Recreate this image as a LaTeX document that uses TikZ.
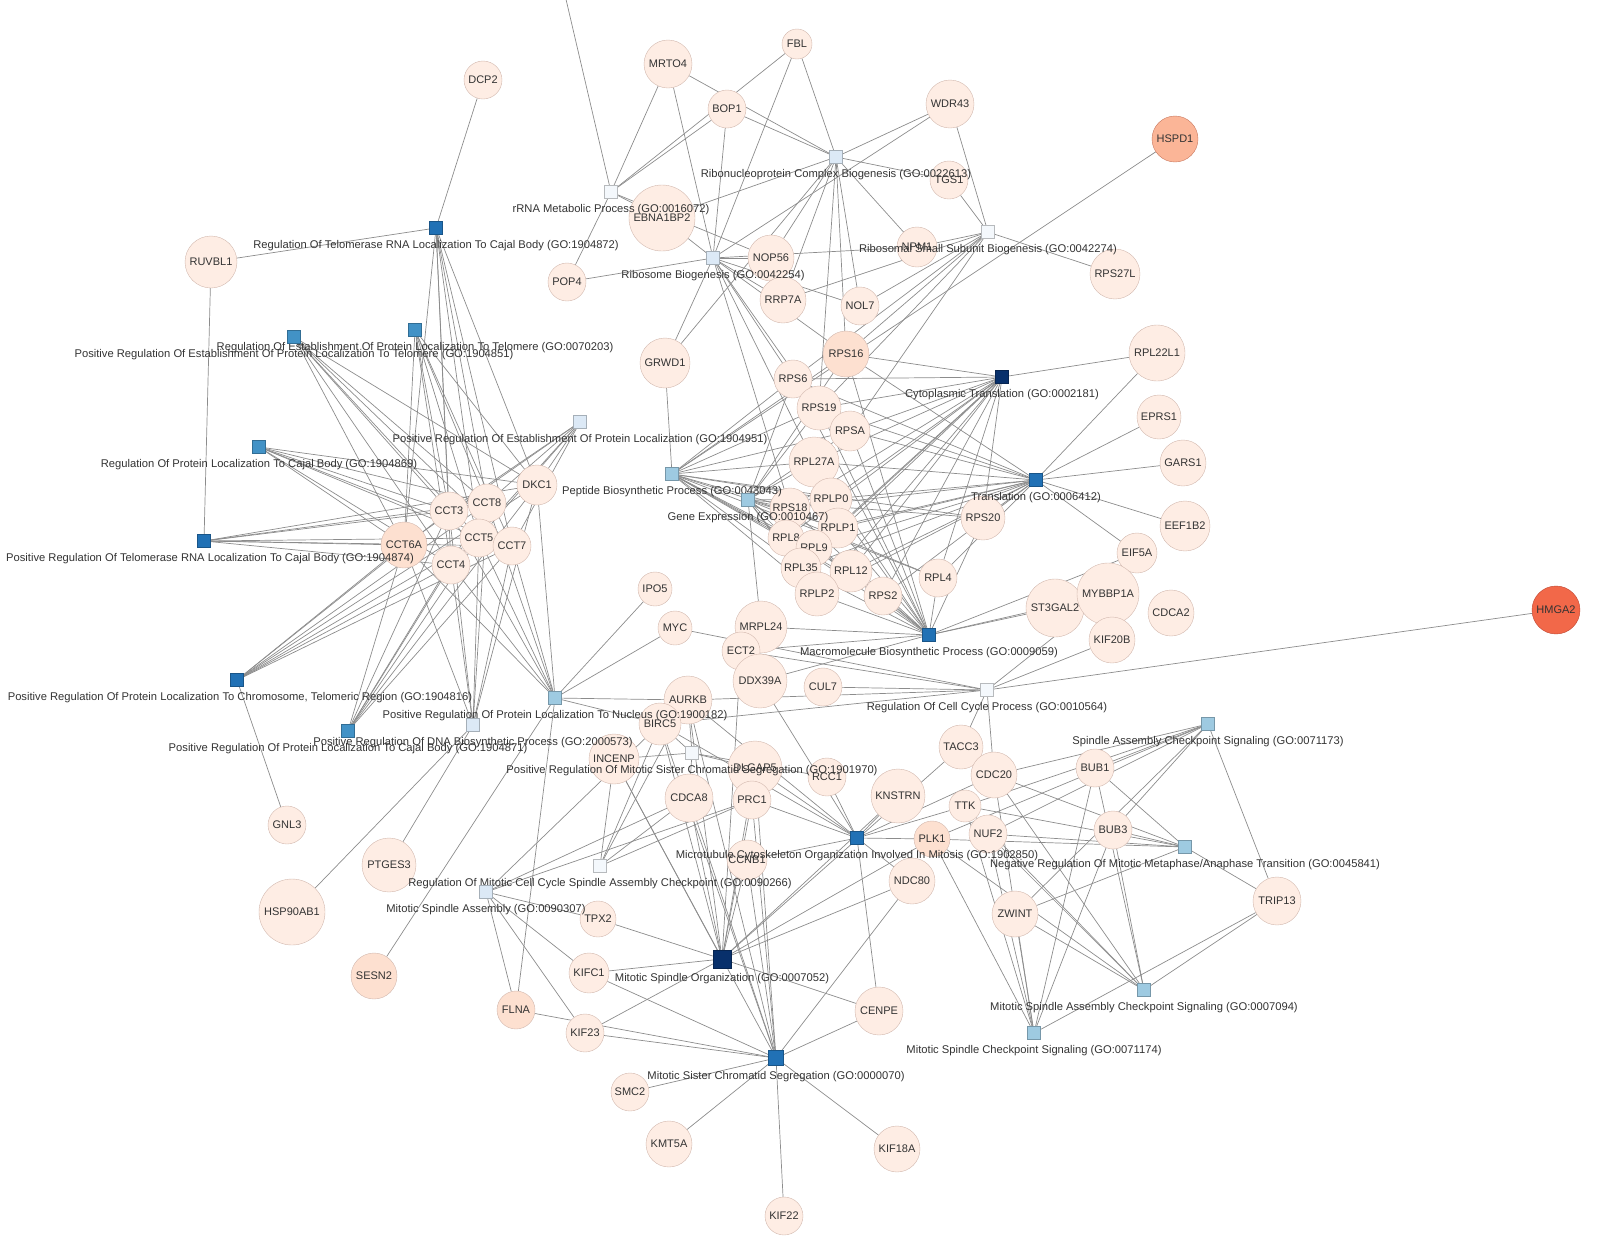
\documentclass[tikz,border=0pt]{standalone}
\usepackage{fontspec}
\setmainfont{Liberation Sans}
\usetikzlibrary{backgrounds}
\definecolor{gfill}{HTML}{FEEDE4}
\definecolor{gline}{HTML}{D2B8AE}
\definecolor{gmid}{HTML}{FDE0D0}
\definecolor{goA}{HTML}{08306B}
\definecolor{goB}{HTML}{2171B5}
\definecolor{goC}{HTML}{4292C6}
\definecolor{goD}{HTML}{9ECAE1}
\definecolor{goE}{HTML}{DCE9F6}
\definecolor{goF}{HTML}{F4F8FC}
\tikzset{
  gene/.style={circle,draw=gline,fill=gfill,inner sep=0pt,font=\fontsize{11}{12}\selectfont,text=black!80},
  go/.style={rectangle,draw=#1!75!black,fill=#1,minimum size=13pt,inner sep=0pt},
  golab/.style={font=\fontsize{11.2}{13}\selectfont,text=black!80,inner sep=1pt,yshift=-4pt},
  edge/.style={draw=black!45,line width=0.7pt}
}
\begin{document}
\begin{tikzpicture}[x=1pt,y=-1pt]
\useasboundingbox (0,0) rectangle (1604,1251);
% genes
\node[gene,minimum size=38] (DCP2) at (483,80) {DCP2};
\node[gene,minimum size=48] (MRTO4) at (668,64) {MRTO4};
\node[gene,minimum size=30] (FBL) at (797,44) {FBL};
\node[gene,minimum size=38] (BOP1) at (727,109) {BOP1};
\node[gene,minimum size=48] (WDR43) at (950,104) {WDR43};
\node[gene,minimum size=46,fill={rgb,255:red,251;green,181;blue,151},draw={rgb,255:red,200;green,120;blue,95}] (HSPD1) at (1175,139) {HSPD1};
\node[gene,minimum size=38] (TGS1) at (949,180) {TGS1};
\node[gene,minimum size=66] (EBNA1BP2) at (662,218) {EBNA1BP2};
\node[gene,minimum size=52] (RUVBL1) at (211,262) {RUVBL1};
\node[gene,minimum size=38] (POP4) at (567,282) {POP4};
\node[gene,minimum size=46] (NOP56) at (771,258) {NOP56};
\node[gene,minimum size=40] (NPM1) at (917,247) {NPM1};
\node[gene,minimum size=50] (RPS27L) at (1115,274) {RPS27L};
\node[gene,minimum size=46] (RRP7A) at (783,300) {RRP7A};
\node[gene,minimum size=38] (NOL7) at (860,306) {NOL7};
\node[gene,minimum size=56] (RPL22L1) at (1157,353) {RPL22L1};
\node[gene,minimum size=46,fill=gmid] (RPS16) at (846,354) {RPS16};
\node[gene,minimum size=50] (GRWD1) at (665,363) {GRWD1};
\node[gene,minimum size=38] (RPS6) at (793,379) {RPS6};
\node[gene,minimum size=44] (RPS19) at (819,408) {RPS19};
\node[gene,minimum size=40] (RPSA) at (850,431) {RPSA};
\node[gene,minimum size=44] (EPRS1) at (1159,417) {EPRS1};
\node[gene,minimum size=46] (GARS1) at (1183,463) {GARS1};
\node[gene,minimum size=50] (RPL27A) at (814,462) {RPL27A};
\node[gene,minimum size=42] (RPLP0) at (831,499) {RPLP0};
\node[gene,minimum size=40] (RPS18) at (790,508) {RPS18};
\node[gene,minimum size=44] (RPS20) at (983,518) {RPS20};
\node[gene,minimum size=50] (EEF1B2) at (1185,526) {EEF1B2};
\node[gene,minimum size=40] (RPLP1) at (838,528) {RPLP1};
\node[gene,minimum size=36] (RPL8) at (786,538) {RPL8};
\node[gene,minimum size=36] (RPL9) at (814,548) {RPL9};
\node[gene,minimum size=40] (EIF5A) at (1137,553) {EIF5A};
\node[gene,minimum size=40] (RPL35) at (801,568) {RPL35};
\node[gene,minimum size=42] (RPL12) at (851,571) {RPL12};
\node[gene,minimum size=38] (RPL4) at (938,578) {RPL4};
\node[gene,minimum size=44] (RPLP2) at (817,594) {RPLP2};
\node[gene,minimum size=38] (RPS2) at (883,596) {RPS2};
\node[gene,minimum size=58] (ST3GAL2) at (1055,608) {ST3GAL2};
\node[gene,minimum size=62] (MYBBP1A) at (1108,594) {MYBBP1A};
\node[gene,minimum size=46] (CDCA2) at (1171,613) {CDCA2};
\node[gene,minimum size=48,fill={rgb,255:red,242;green,104;blue,73},draw={rgb,255:red,190;green,70;blue,50}] (HMGA2) at (1556,610) {HMGA2};
\node[gene,minimum size=46] (KIF20B) at (1112,640) {KIF20B};
\node[gene,minimum size=34] (IPO5) at (655,589) {IPO5};
\node[gene,minimum size=34] (MYC) at (675,628) {MYC};
\node[gene,minimum size=52] (MRPL24) at (761,627) {MRPL24};
\node[gene,minimum size=38] (ECT2) at (741,651) {ECT2};
\node[gene,minimum size=54] (DDX39A) at (760,681) {DDX39A};
\node[gene,minimum size=38] (CUL7) at (823,687) {CUL7};
\node[gene,minimum size=48] (AURKB) at (688,700) {AURKB};
\node[gene,minimum size=42] (BIRC5) at (660,724) {BIRC5};
\node[gene,minimum size=44] (TACC3) at (961,747) {TACC3};
\node[gene,minimum size=50] (INCENP) at (614,759) {INCENP};
\node[gene,minimum size=54] (DLGAP5) at (755,768) {DLGAP5};
\node[gene,minimum size=38] (RCC1) at (827,777) {RCC1};
\node[gene,minimum size=46] (CDC20) at (994,775) {CDC20};
\node[gene,minimum size=38] (BUB1) at (1095,768) {BUB1};
\node[gene,minimum size=54] (KNSTRN) at (898,796) {KNSTRN};
\node[gene,minimum size=32] (TTK) at (965,806) {TTK};
\node[gene,minimum size=48] (CDCA8) at (689,798) {CDCA8};
\node[gene,minimum size=38] (PRC1) at (752,800) {PRC1};
\node[gene,minimum size=38] (NUF2) at (988,834) {NUF2};
\node[gene,minimum size=38] (BUB3) at (1113,830) {BUB3};
\node[gene,minimum size=36,fill=gmid] (PLK1) at (932,839) {PLK1};
\node[gene,minimum size=40] (CCNB1) at (747,860) {CCNB1};
\node[gene,minimum size=46] (NDC80) at (912,881) {NDC80};
\node[gene,minimum size=48] (TRIP13) at (1277,901) {TRIP13};
\node[gene,minimum size=46] (ZWINT) at (1015,914) {ZWINT};
\node[gene,minimum size=38] (GNL3) at (287,825) {GNL3};
\node[gene,minimum size=54] (PTGES3) at (389,865) {PTGES3};
\node[gene,minimum size=66] (HSP90AB1) at (292,912) {HSP90AB1};
\node[gene,minimum size=36] (TPX2) at (598,919) {TPX2};
\node[gene,minimum size=46,fill=gmid] (SESN2) at (374,976) {SESN2};
\node[gene,minimum size=40] (KIFC1) at (589,973) {KIFC1};
\node[gene,minimum size=38,fill=gmid] (FLNA) at (516,1010) {FLNA};
\node[gene,minimum size=48] (CENPE) at (879,1011) {CENPE};
\node[gene,minimum size=38] (KIF23) at (585,1033) {KIF23};
\node[gene,minimum size=38] (SMC2) at (630,1092) {SMC2};
\node[gene,minimum size=46] (KMT5A) at (669,1144) {KMT5A};
\node[gene,minimum size=46] (KIF18A) at (897,1149) {KIF18A};
\node[gene,minimum size=38] (KIF22) at (784,1216) {KIF22};
\node[gene,minimum size=38] (CCT8) at (487,503) {CCT8};
\node[gene,minimum size=40] (DKC1) at (537,485) {DKC1};
\node[gene,minimum size=38] (CCT3) at (449,511) {CCT3};
\node[gene,minimum size=38] (CCT5) at (479,538) {CCT5};
\node[gene,minimum size=46,fill=gmid] (CCT6A) at (404,545) {CCT6A};
\node[gene,minimum size=38] (CCT7) at (512,546) {CCT7};
\node[gene,minimum size=38] (CCT4) at (451,565) {CCT4};
% GO terms
\node[go=goF,label={[golab]below:rRNA Metabolic Process (GO:0016072)}] (rrna) at (611,192) {};
\node[go=goE,label={[golab]below:Ribonucleoprotein Complex Biogenesis (GO:0022613)}] (rcb) at (836,157) {};
\node[go=goF,label={[golab]below:Ribosomal Small Subunit Biogenesis (GO:0042274)}] (ssb) at (988,232) {};
\node[go=goE,label={[golab]below:Ribosome Biogenesis (GO:0042254)}] (rb) at (713,258) {};
\node[go=goB,label={[golab]below:Regulation Of Telomerase RNA Localization To Cajal Body (GO:1904872)}] (rtc) at (436,228) {};
\node[go=goC,label={[golab]below:Regulation Of Establishment Of Protein Localization To Telomere (GO:0070203)}] (ret) at (415,330) {};
\node[go=goC,label={[golab]below:Positive Regulation Of Establishment Of Protein Localization To Telomere (GO:1904851)}] (pret) at (294,337) {};
\node[go=goA,label={[golab]below:Cytoplasmic Translation (GO:0002181)}] (ctr) at (1002,377) {};
\node[go=goE,label={[golab]below:Positive Regulation Of Establishment Of Protein Localization (GO:1904951)}] (prep) at (580,422) {};
\node[go=goC,label={[golab]below:Regulation Of Protein Localization To Cajal Body (GO:1904869)}] (rplc) at (259,447) {};
\node[go=goD,label={[golab]below:Peptide Biosynthetic Process (GO:0043043)}] (pbp) at (672,474) {};
\node[go=goB,label={[golab]below:Translation (GO:0006412)}] (tra) at (1036,480) {};
\node[go=goD,label={[golab]below:Gene Expression (GO:0010467)}] (gex) at (748,500) {};
\node[go=goB,label={[golab,xshift=6pt]below:Positive Regulation Of Telomerase RNA Localization To Cajal Body (GO:1904874)}] (prtc) at (204,541) {};
\node[go=goB,label={[golab]below:Macromolecule Biosynthetic Process (GO:0009059)}] (mbp) at (929,635) {};
\node[go=goB,label={[golab,xshift=3pt]below:{Positive Regulation Of Protein Localization To Chromosome, Telomeric Region (GO:1904816)}}] (prpt) at (237,680) {};
\node[go=goF,label={[golab]below:Regulation Of Cell Cycle Process (GO:0010564)}] (rccp) at (987,690) {};
\node[go=goD,label={[golab]below:Positive Regulation Of Protein Localization To Nucleus (GO:1900182)}] (prpn) at (555,698) {};
\node[go=goD,label={[golab]below:Spindle Assembly Checkpoint Signaling (GO:0071173)}] (sacs) at (1208,724) {};
\node[go=goC,label={[golab]below:Positive Regulation Of Protein Localization To Cajal Body (GO:1904871)}] (prpc) at (348,731) {};
\node[go=goE,label={[golab]below:Positive Regulation Of DNA Biosynthetic Process (GO:2000573)}] (prdna) at (473,725) {};
\node[go=goF,label={[golab]below:Positive Regulation Of Mitotic Sister Chromatid Segregation (GO:1901970)}] (prms) at (692,753) {};
\node[go=goB,label={[golab]below:Microtubule Cytoskeleton Organization Involved In Mitosis (GO:1902850)}] (mcom) at (857,838) {};
\node[go=goD,label={[golab]below:Negative Regulation Of Mitotic Metaphase/Anaphase Transition (GO:0045841)}] (nrmt) at (1185,847) {};
\node[go=goF,label={[golab]below:Regulation Of Mitotic Cell Cycle Spindle Assembly Checkpoint (GO:0090266)}] (rmsc) at (600,866) {};
\node[go=goE,label={[golab]below:Mitotic Spindle Assembly (GO:0090307)}] (msa) at (486,892) {};
\node[go=goA,minimum size=18pt,label={[golab]below:Mitotic Spindle Organization (GO:0007052)}] (mso) at (722,959) {};
\node[go=goD,label={[golab]below:Mitotic Spindle Assembly Checkpoint Signaling (GO:0007094)}] (msac) at (1144,990) {};
\node[go=goD,label={[golab]below:Mitotic Spindle Checkpoint Signaling (GO:0071174)}] (mscs) at (1034,1033) {};
\node[go=goB,minimum size=15pt,label={[golab]below:Mitotic Sister Chromatid Segregation (GO:0000070)}] (mseg) at (776,1058) {};
\coordinate (offtop) at (565,-5);
% connectors
\begin{scope}[on background layer]
\draw[edge] (rrna) -- (offtop);
\foreach \g in {MRTO4,BOP1,EBNA1BP2,POP4,FBL,NOP56}
  \draw[edge] (rrna) -- (\g);
\foreach \g in {FBL,BOP1,WDR43,TGS1,NOP56,RRP7A,NOL7,RPS16,RPS19,NPM1,EBNA1BP2,GRWD1,MRTO4}
  \draw[edge] (rcb) -- (\g);
\foreach \g in {WDR43,TGS1,NPM1,RPS27L,RPS16,RPS19,NOL7,RRP7A,RPSA,RPS6}
  \draw[edge] (ssb) -- (\g);
\foreach \g in {MRTO4,BOP1,EBNA1BP2,POP4,NOP56,RRP7A,NOL7,NPM1,GRWD1,RPS16,RPS6,RPS19,WDR43,FBL,RPL27A,RPS18}
  \draw[edge] (rb) -- (\g);
\foreach \t in {rtc,ret,pret,prep,rplc,prtc,prpt,prdna,prpc,prpn}
  \foreach \g in {CCT3,CCT8,CCT5,CCT6A,CCT7,CCT4,DKC1}
    \draw[edge] (\t) -- (\g);
\draw[edge] (rtc) -- (RUVBL1);
\draw[edge] (rtc) -- (DCP2);
\draw[edge] (prtc) -- (RUVBL1);
\draw[edge] (prpt) -- (GNL3);
\draw[edge] (prdna) -- (PTGES3);
\draw[edge] (prdna) -- (HSP90AB1);
\foreach \g in {SESN2,MYC,IPO5,AURKB,BIRC5,FLNA}
  \draw[edge] (prpn) -- (\g);
\foreach \t in {ctr,tra,pbp,gex,mbp}
  \foreach \g in {RPS16,RPS6,RPS19,RPSA,RPL27A,RPLP0,RPS18,RPS20,RPLP1,RPL8,RPL9,RPL35,RPL12,RPL4,RPLP2,RPS2}
    \draw[edge] (\t) -- (\g);
\draw[edge] (ctr) -- (RPL22L1);
\foreach \g in {RPL22L1,EPRS1,GARS1,EEF1B2,EIF5A}
  \draw[edge] (tra) -- (\g);
\draw[edge] (pbp) -- (HSPD1);
\draw[edge] (pbp) -- (GRWD1);
\draw[edge] (gex) -- (MRPL24);
\foreach \g in {MRPL24,ST3GAL2,MYBBP1A,EIF5A,DDX39A,ECT2}
  \draw[edge] (mbp) -- (\g);
\foreach \g in {HMGA2,KIF20B,MYBBP1A,MYC,CUL7,AURKB,CDC20,TACC3,BIRC5,ECT2}
  \draw[edge] (rccp) -- (\g);
\foreach \t in {sacs,nrmt,msac,mscs}
  \foreach \g in {BUB1,BUB3,CDC20,TTK,TRIP13,ZWINT,NUF2,PLK1}
    \draw[edge] (\t) -- (\g);
\foreach \g in {AURKB,BIRC5,INCENP,CDCA8,DLGAP5,RCC1}
  \draw[edge] (prms) -- (\g);
\foreach \g in {AURKB,BIRC5,KNSTRN,PLK1,TTK,CDC20,DLGAP5,PRC1,CCNB1,NDC80,RCC1,CENPE,ECT2}
  \draw[edge] (mcom) -- (\g);
\foreach \g in {AURKB,BIRC5,INCENP,CDCA8,PRC1}
  \draw[edge] (rmsc) -- (\g);
\foreach \g in {KIFC1,FLNA,TPX2,KIF23,PRC1,CDCA8,BIRC5}
  \draw[edge] (msa) -- (\g);
\foreach \g in {KIFC1,TPX2,KIF23,AURKB,CDCA8,PRC1,DLGAP5,CCNB1,KNSTRN,NDC80,PLK1,CENPE,BIRC5,INCENP,TACC3,ECT2}
  \draw[edge] (mso) -- (\g);
\foreach \g in {KIF18A,KIF22,KMT5A,SMC2,KIF23,FLNA,CENPE,NDC80,CDCA8,AURKB,BIRC5,INCENP,DLGAP5,PRC1,CCNB1,KIFC1}
  \draw[edge] (mseg) -- (\g);
\end{scope}
\end{tikzpicture}
\end{document}
